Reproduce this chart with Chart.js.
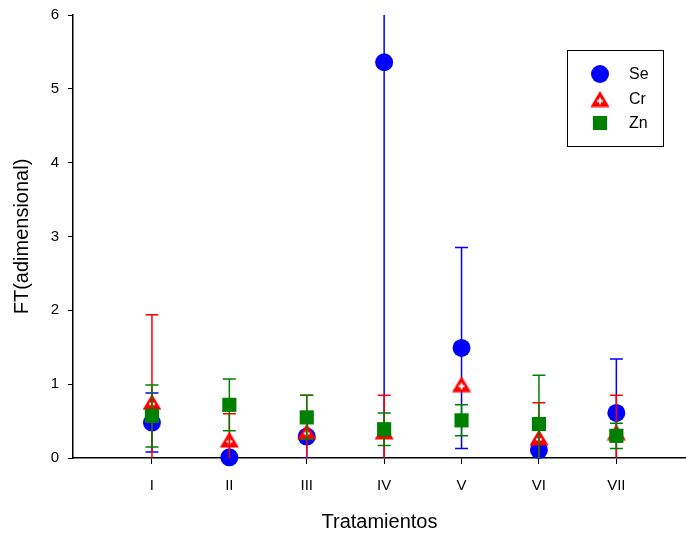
<!DOCTYPE html>
<html>
<head>
<meta charset="utf-8">
<script src="https://cdn.jsdelivr.net/npm/chart.js@4.4.0/dist/chart.umd.min.js"></script>
<style>
    html, body { margin: 0; padding: 0; background: #fff; }
</style>
</head>
<body>
<canvas id="ftChart" width="686" height="537"></canvas>
<script>
// Tratamientos on the x axis
const tratamientos = ['I', 'II', 'III', 'IV', 'V', 'VI', 'VII'];

// means and error (+/-) per element
const seMean = [0.48, 0.01, 0.29, 5.36, 1.49, 0.11, 0.61];
const seErr  = [0.40, 0.00, 0.29, 5.50, 1.36, 0.00, 0.73];
const crMean = [0.76, 0.25, 0.36, 0.36, 1.00, 0.28, 0.35];
const crErr  = [1.18, 0.35, 0.49, 0.49, 0.00, 0.47, 0.50];
const znMean = [0.57, 0.72, 0.55, 0.39, 0.51, 0.46, 0.30];
const znErr  = [0.42, 0.35, 0.30, 0.22, 0.21, 0.66, 0.17];

const yTicks = [0, 1, 2, 3, 4, 5, 6];

const FONT = '"Liberation Sans", Arial, sans-serif';

// red triangle with a white cross, used for Cr
const triMarker = (() => {
    const c = document.createElement('canvas');
    c.width = 20;
    c.height = 17;
    const g = c.getContext('2d');
    g.fillStyle = '#ff0000';
    g.beginPath();
    g.moveTo(10, 0.5);
    g.lineTo(19.5, 16.5);
    g.lineTo(0.5, 16.5);
    g.closePath();
    g.fill();
    g.fillStyle = '#ffffff';
    g.fillRect(9, 7.5, 2, 6);
    g.fillRect(7, 9.5, 6, 2);
    return c;
})();

const toPoints = arr => arr.map((v, i) => ({ x: i + 1, y: v }));

const errorBars = {
    id: 'errorBars',
    afterDatasetDraw(chart, args) {
        const ds = chart.data.datasets[args.index];
        if (!ds.errors) return;
        const { ctx, chartArea, scales } = chart;
        ctx.save();
        ctx.beginPath();
        ctx.rect(chartArea.left, chartArea.top, chartArea.right - chartArea.left, chartArea.bottom - chartArea.top);
        ctx.clip();
        ctx.strokeStyle = ds.barColor;
        ctx.lineWidth = 1.5;
        ds.data.forEach((p, i) => {
            const e = ds.errors[i];
            if (!e) return;
            const x = scales.x.getPixelForValue(p.x);
            const yHi = scales.y.getPixelForValue(p.y + e);
            const yLo = scales.y.getPixelForValue(p.y - e);
            ctx.beginPath();
            ctx.moveTo(x, yHi);
            ctx.lineTo(x, yLo);
            ctx.moveTo(x - 6.5, yHi);
            ctx.lineTo(x + 6.5, yHi);
            ctx.moveTo(x - 6.5, yLo);
            ctx.lineTo(x + 6.5, yLo);
            ctx.stroke();
        });
        ctx.restore();
    }
};

const boxLegend = {
    id: 'boxLegend',
    afterDraw(chart) {
        const ctx = chart.ctx;
        ctx.save();
        ctx.strokeStyle = '#000';
        ctx.lineWidth = 1;
        ctx.strokeRect(567.5, 50.5, 96, 96);
        const rows = [74, 99, 123];
        ctx.font = '16px ' + FONT;
        ctx.textBaseline = 'middle';
        chart.data.datasets.forEach((ds, i) => {
            ctx.fillStyle = ds.backgroundColor;
            Chart.helpers.drawPoint(ctx, {
                pointStyle: ds.pointStyle,
                radius: ds.pointRadius,
                rotation: 0,
                borderWidth: 0
            }, 600, rows[i]);
            ctx.fillStyle = '#000';
            ctx.fillText(ds.label, 629, rows[i] + 1);
        });
        ctx.restore();
    }
};

new Chart(document.getElementById('ftChart').getContext('2d'), {
    type: 'scatter',
    data: {
        datasets: [
            {
                label: 'Se',
                data: toPoints(seMean),
                errors: seErr,
                barColor: '#0000ff',
                backgroundColor: '#0000ff',
                borderWidth: 0,
                pointStyle: 'circle',
                pointRadius: 9,
                order: 3,
                clip: false,
            },
            {
                label: 'Cr',
                data: toPoints(crMean),
                errors: crErr,
                barColor: '#ff0000',
                backgroundColor: '#ff0000',
                borderWidth: 0,
                pointStyle: triMarker,
                pointRadius: 9,
                order: 2,
                clip: false,
            },
            {
                label: 'Zn',
                data: toPoints(znMean),
                errors: znErr,
                barColor: '#008000',
                backgroundColor: '#008000',
                borderWidth: 0,
                pointStyle: 'rect',
                pointRadius: 10,
                order: 1,
                clip: false,
            },
        ],
    },
    options: {
        responsive: false,
        animation: false,
        events: [],
        layout: {
            autoPadding: false,
            padding: { top: 15, right: 0, bottom: 0, left: 0 }
        },
        plugins: {
            legend: { display: false },
            tooltip: { enabled: false },
        },
        scales: {
            x: {
                type: 'linear',
                min: -0.02,
                max: 7.9,
                afterFit: s => {
                    s.height = 79;
                    s.paddingLeft = 0;
                    s.paddingRight = 0;
                },
                afterBuildTicks: s => { s.ticks = tratamientos.map((t, i) => ({ value: i + 1 })); },
                grid: {
                    drawOnChartArea: false,
                    drawTicks: true,
                    tickLength: 6,
                    color: '#000',
                },
                border: { color: '#000', width: 1.5 },
                ticks: {
                    color: '#000',
                    padding: 13,
                    maxRotation: 0,
                    font: { family: FONT, size: 15 },
                    callback: v => tratamientos[v - 1] || '',
                },
                title: {
                    display: true,
                    text: 'Tratamientos',
                    color: '#000',
                    font: { family: FONT, size: 20 },
                    padding: { top: 0, bottom: 3 },
                },
            },
            y: {
                min: 0,
                max: 6,
                afterFit: s => {
                    s.width = 73;
                    s.paddingTop = 0;
                    s.paddingBottom = 0;
                },
                afterBuildTicks: s => { s.ticks = yTicks.map(v => ({ value: v })); },
                grid: {
                    drawOnChartArea: false,
                    drawTicks: true,
                    tickLength: 5,
                    color: '#000',
                },
                border: { color: '#000', width: 1.5 },
                ticks: {
                    color: '#000',
                    padding: 9,
                    font: { family: FONT, size: 15 },
                },
                title: {
                    display: true,
                    text: 'FT(adimensional)',
                    color: '#000',
                    font: { family: FONT, size: 20 },
                    padding: { top: 10, bottom: 0 },
                },
            },
        },
    },
    plugins: [errorBars, boxLegend],
});
</script>
</body>
</html>
